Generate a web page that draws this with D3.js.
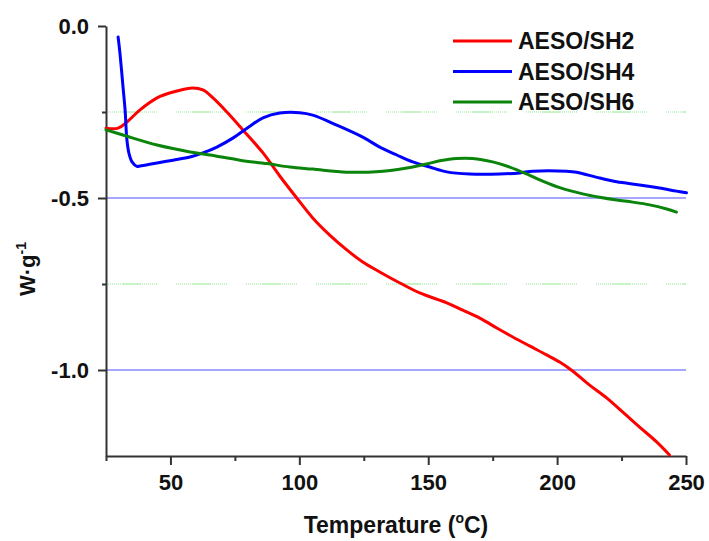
<!DOCTYPE html>
<html><head><meta charset="utf-8">
<script src="https://cdn.jsdelivr.net/npm/d3@7"></script>
<style>body{margin:0;background:#fff;} text{font-family:Arial,"Liberation Sans",sans-serif;font-weight:bold;fill:#111;}</style>
</head><body>
<svg id="c" width="709" height="541"></svg>
<script>
const seriesNames = ["AESO/SH2","AESO/SH4","AESO/SH6"];
const seriesColors = ["#ff0000","#0000ff","#0a840a"];
const sh2 = [[25,-0.297],[29.7,-0.297],[33.1,-0.279],[38.2,-0.244],[44.8,-0.209],[51.0,-0.192],[58.7,-0.180],[62.6,-0.186],[66.5,-0.209],[71.9,-0.250],[78.1,-0.302],[85.9,-0.369],[92.4,-0.436],[99.0,-0.500],[105.2,-0.558],[111.8,-0.608],[118.4,-0.651],[124.6,-0.686],[131.2,-0.715],[139.0,-0.747],[146.7,-0.776],[157.2,-0.805],[163.4,-0.826],[170.0,-0.849],[176.6,-0.878],[182.8,-0.904],[189.3,-0.930],[195.9,-0.956],[201.0,-0.977],[206.0,-1.003],[212.6,-1.044],[219.2,-1.081],[225.4,-1.122],[232.0,-1.166],[238.6,-1.209],[243.6,-1.247]];
const sh4 = [[29.7,-0.032],[30.4,-0.078],[31.6,-0.177],[32.4,-0.244],[33.1,-0.330],[33.9,-0.370],[35.1,-0.395],[37.0,-0.408],[38.2,-0.407],[44.8,-0.398],[51.0,-0.390],[57.6,-0.381],[62.6,-0.369],[68.0,-0.352],[74.2,-0.326],[79.7,-0.297],[85.9,-0.267],[92.4,-0.253],[100.2,-0.252],[105.2,-0.259],[114.5,-0.288],[124.6,-0.323],[131.2,-0.352],[137.8,-0.375],[144.0,-0.395],[150.6,-0.410],[157.2,-0.424],[166.1,-0.430],[177.7,-0.430],[185.5,-0.427],[190.5,-0.422],[203.7,-0.422],[207.6,-0.425],[216.5,-0.442],[223.1,-0.453],[232.0,-0.462],[239.7,-0.471],[246.3,-0.480],[250.2,-0.485]];
const sh6 = [[25,-0.302],[31.6,-0.317],[44.8,-0.346],[57.6,-0.366],[65.3,-0.375],[76.9,-0.390],[87.4,-0.400],[96.3,-0.410],[105.2,-0.416],[118.4,-0.425],[131.2,-0.423],[141.7,-0.413],[149.4,-0.401],[154.5,-0.392],[161.0,-0.385],[167.2,-0.385],[175.0,-0.395],[181.6,-0.410],[188.2,-0.430],[194.4,-0.451],[201.0,-0.470],[209.9,-0.488],[216.5,-0.498],[223.1,-0.506],[229.3,-0.512],[235.9,-0.520],[242.5,-0.532],[246.3,-0.541]];
const xMajor = [50,100,150,200,250];
const xMinor = [25,75,125,175,225];
const yMajor = [0,-0.5,-1.0];
const yMinor = [-0.25,-0.75];
const solidGrid = [-0.5,-1.0];
const dashGrid = [-0.25,-0.75];

const svg = d3.select("#c");
svg.append("rect").attr("width",709).attr("height",541).attr("fill","#fff");
const x = d3.scaleLinear().domain([25,250]).range([106,686]);
const y = d3.scaleLinear().domain([-1.25,0]).range([456,26]);

// gridlines
svg.selectAll(".gs").data(solidGrid).enter().append("line")
  .attr("x1",x(25)).attr("x2",x(250)).attr("y1",d=>y(d)).attr("y2",d=>y(d))
  .attr("stroke","#8a8aff").attr("stroke-width",1.5);
const dots = []; for(let i=0;i<8;i++){dots.push(1,1);} dots.push(19);
svg.selectAll(".gd").data(dashGrid).enter().append("line")
  .attr("x1",x(25)).attr("x2",x(250)).attr("y1",d=>y(d)).attr("y2",d=>y(d))
  .attr("stroke","#8fe88f").attr("stroke-width",1).attr("stroke-dasharray",dots.join(","));

// axes
const axisColor="#333";
const yFmt = d => d.toFixed(1);
const xAxisG = svg.append("g").attr("transform",`translate(0,${y(-1.25)})`)
  .call(d3.axisBottom(x).tickValues(xMajor).tickSize(9).tickSizeOuter(0).tickFormat(d3.format("d")));
const xMinorG = svg.append("g").attr("transform",`translate(0,${y(-1.25)})`)
  .call(d3.axisBottom(x).tickValues(xMinor).tickSize(5).tickSizeOuter(0).tickFormat(""));
const yAxisG = svg.append("g").attr("transform",`translate(${x(25)},0)`)
  .call(d3.axisLeft(y).tickValues(yMajor).tickSize(8).tickSizeOuter(0).tickFormat(yFmt));
const yMinorG = svg.append("g").attr("transform",`translate(${x(25)},0)`)
  .call(d3.axisLeft(y).tickValues(yMinor).tickSize(4).tickSizeOuter(0).tickFormat(""));
[xAxisG,xMinorG,yAxisG,yMinorG].forEach(g=>{
  g.selectAll("path").attr("stroke",axisColor).attr("stroke-width",2);
  g.selectAll("line").attr("stroke",axisColor).attr("stroke-width",2);
  g.selectAll("text").attr("font-size",22).attr("font-weight","bold").attr("fill","#111")
   .attr("font-family","Arial, 'Liberation Sans', sans-serif");
});
xAxisG.selectAll("text").attr("dy",null).attr("y",34);
yAxisG.selectAll("text").attr("x",-17).attr("dy","0.36em");
yMinorG.select(".domain").remove();
xMinorG.select(".domain").remove();

// lines
const line = d3.line().x(d=>x(d[0])).y(d=>y(d[1])).curve(d3.curveCatmullRom.alpha(0.5));
const allSeries=[sh2,sh4,sh6];
svg.selectAll(".ser").data(allSeries).enter().append("path")
  .attr("d",line).attr("fill","none").attr("stroke",(d,i)=>seriesColors[i])
  .attr("stroke-width",3).attr("stroke-linejoin","round").attr("stroke-linecap","round");

// legend
const lg = svg.append("g");
seriesNames.forEach((n,i)=>{
  const yy = 41 + i*30.5;
  lg.append("line").attr("x1",453).attr("x2",512).attr("y1",yy).attr("y2",yy)
    .attr("stroke",seriesColors[i]).attr("stroke-width",3);
  lg.append("text").attr("x",518).attr("y",yy).attr("dy","0.36em").attr("font-size",23).text(n);
});

// axis titles
const xt = svg.append("text").attr("x",396).attr("y",533).attr("text-anchor","middle").attr("font-size",23);
xt.append("tspan").text("Temperature (");
xt.append("tspan").attr("font-size",14).attr("dy",-10).text("o");
xt.append("tspan").attr("dy",10).text("C)");
const yt = svg.append("text").attr("transform","translate(35,269) rotate(-90)").attr("text-anchor","middle").attr("font-size",22);
yt.append("tspan").text("W·g");
yt.append("tspan").attr("font-size",14).attr("dy",-9).text("-1");
</script>
</body></html>
